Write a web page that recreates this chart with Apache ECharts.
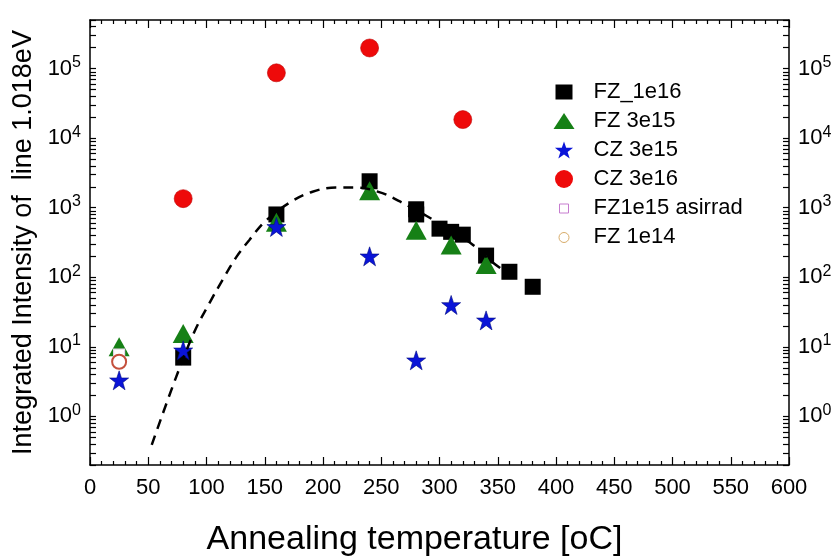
<!DOCTYPE html>
<html>
<head>
<meta charset="utf-8">
<script src="https://cdn.jsdelivr.net/npm/echarts@6/dist/echarts.min.js"></script>
<style>
  html, body { margin: 0; padding: 0; background: #fff; }
  #chart { width: 840px; height: 559px; }
</style>
</head>
<body>
<div id="chart"></div>
<script>
// Annealing temperature (°C) and integrated intensity of the 1.018 eV line
const fz1e16T = [80, 160, 240, 280, 280, 300, 310, 320, 340, 360, 380];
const fz1e16V = [7, 800, 2400, 950, 800, 500, 450, 410, 205, 120, 73];

const fz3e15T = [25, 80, 160, 240, 280, 310, 340];
const fz3e15V = [10, 15.5, 620, 1750, 475, 290, 153];

const cz3e15T = [25, 80, 160, 240, 280, 310, 340];
const cz3e15V = [3.3, 8.9, 530, 200, 6.4, 40, 24];

const cz3e16T = [80, 160, 240, 320];
const cz3e16V = [1350, 87000, 198000, 18500];

const fz1e15T = [25];
const fz1e15V = [8.0];

const fz1e14T = [25];
const fz1e14V = [6.1];

// Guide curve (dashed)
const curveT = [53, 74, 90, 103, 114, 126, 137, 150, 171, 191, 211, 229, 251, 266, 289, 326, 346, 366];
const curveV = [0.39, 3.7, 17, 44, 93, 200, 347, 630, 1175, 1700, 1950, 1950, 1620, 1230, 760, 316, 162, 93];

// Axis ticks
const xTicks = [0, 50, 100, 150, 200, 250, 300, 350, 400, 450, 500, 550, 600];
const yDecades = [1, 10, 100, 1000, 10000, 100000];
const yMin = 0.2, yMax = 500000;

const yMinorTicks = [];
[0.1, 1, 10, 100, 1000, 10000, 100000].forEach(function (d) {
  for (let k = 1; k <= 9; k++) {
    const v = +(d * k).toPrecision(6);
    if (v >= yMin && v <= yMax) yMinorTicks.push(v);
  }
});

function pairs(t, v) { return t.map(function (x, i) { return [x, v[i]]; }); }

const starPath = 'path://M50,2 L61.8,36 L98,36 L68.8,57.5 L79.9,92 L50,71 L20.1,92 L31.2,57.5 L2,36 L38.2,36 Z';

// Legend icons laid out in a 49x18 box, symbol centred horizontally
const BOX = 'M0,0M49,18';
const legSquare = 'path://' + BOX + 'M16,1.5L33,1.5L33,16.5L16,16.5Z';
const legTriangle = 'path://' + BOX + 'M14,17L35,17L24.5,1Z';
const legStar = 'path://' + BOX + 'M24.5,0.4L26.7,6.8L33.6,6.8L28.1,10.9L30.2,17.5L24.5,13.5L18.8,17.5L20.9,10.9L15.4,6.8L22.3,6.8Z';
const legCircle = 'path://' + BOX + 'M15.5,9A9,9 0 1,1 33.5,9A9,9 0 1,1 15.5,9Z';
const legSmallSquare = 'path://' + BOX + 'M20,5L29,5L29,14L20,14Z';
const legSmallCircle = 'path://' + BOX + 'M19.5,9.5A5,5 0 1,1 29.5,9.5A5,5 0 1,1 19.5,9.5Z';

const FONT = "'Liberation Sans', Arial, Helvetica, sans-serif";

const chart = echarts.init(document.getElementById('chart'), null, { renderer: 'canvas' });

const yLabelRich = {
  b: { fontSize: 22, fontFamily: FONT, color: '#000', lineHeight: 28 },
  s: { fontSize: 16, fontFamily: FONT, color: '#000', verticalAlign: 'top', lineHeight: 16 }
};
function decadeLabel(v) {
  const e = Math.round(Math.log10(v));
  return '{b|10}{s|' + e + '}';
}

function yAxisDef(pos, showLabel) {
  return {
    type: 'log',
    logBase: 10,
    min: yMin,
    max: yMax,
    position: pos,
    axisLine: { show: true, onZero: false, lineStyle: { color: '#000', width: 1.5 } },
    axisTick: { show: true, inside: true, length: 6, lineStyle: { color: '#000', width: 1.2 }, customValues: yMinorTicks },
    minorTick: { show: false },
    splitLine: { show: false },
    axisLabel: {
      show: showLabel,
      customValues: yDecades,
      margin: 9,
      formatter: decadeLabel,
      rich: yLabelRich
    }
  };
}

function xAxisDef(pos, showLabel) {
  return {
    type: 'value',
    min: 0,
    max: 600,
    interval: 50,
    position: pos,
    axisLine: { show: true, onZero: false, lineStyle: { color: '#000', width: 1.5 } },
    axisTick: { show: true, inside: true, length: 8, lineStyle: { color: '#000', width: 1.2 } },
    minorTick: { show: true, splitNumber: 5, length: 4, lineStyle: { color: '#000', width: 1.2 } },
    splitLine: { show: false },
    axisLabel: {
      show: showLabel,
      margin: 12,
      fontSize: 22,
      fontFamily: FONT,
      color: '#000',
      customValues: xTicks
    }
  };
}

const xBottom = xAxisDef('bottom', true);
xBottom.name = 'Annealing temperature [oC]';
xBottom.nameLocation = 'middle';
xBottom.nameGap = 58;
xBottom.nameTextStyle = { fontSize: 34, fontFamily: FONT, color: '#000', padding: [0, 50, 0, 0] };

const yLeft = yAxisDef('left', true);
yLeft.name = 'Integrated Intensity of  line 1.018eV';
yLeft.nameLocation = 'middle';
yLeft.nameGap = 47;
yLeft.nameTextStyle = { fontSize: 27, fontFamily: FONT, color: '#000' };

const option = {
  backgroundColor: '#fff',
  animation: false,
  grid: { left: 90, right: 51, top: 20, bottom: 94, containLabel: false, outerBoundsMode: 'none' },
  xAxis: [xBottom, xAxisDef('top', false)],
  yAxis: [yLeft, yAxisDef('right', true)],
  legend: {
    orient: 'vertical',
    left: 534,
    top: 76,
    itemWidth: 49,
    itemHeight: 18,
    itemGap: 7,
    selectedMode: false,
    textStyle: { fontSize: 22, fontFamily: FONT, color: '#000', lineHeight: 22 },
    data: [
      { name: 'FZ_1e16', icon: legSquare, itemStyle: { color: '#000', borderWidth: 0 } },
      { name: 'FZ 3e15', icon: legTriangle, itemStyle: { color: '#168016', borderWidth: 0 } },
      { name: 'CZ 3e15', icon: legStar, itemStyle: { color: '#0a14d8', borderWidth: 0 } },
      { name: 'CZ 3e16', icon: legCircle, itemStyle: { color: '#ee0a0a', borderWidth: 0 } },
      { name: 'FZ1e15 asirrad', icon: legSmallSquare, itemStyle: { color: '#fff', borderColor: '#c67ccf', borderWidth: 1 } },
      { name: 'FZ 1e14', icon: legSmallCircle, itemStyle: { color: '#fff', borderColor: '#d8ac6a', borderWidth: 1 } }
    ]
  },
  series: [
    {
      name: 'FZ_1e16', type: 'scatter', symbol: 'rect', symbolSize: 16, z: 2,
      itemStyle: { color: '#000', opacity: 1 },
      data: pairs(fz1e16T, fz1e16V)
    },
    {
      name: 'FZ 3e15', type: 'scatter', symbol: 'triangle', symbolSize: [21, 19], z: 3,
      itemStyle: { color: '#168016', opacity: 1 },
      data: pairs(fz3e15T, fz3e15V)
    },
    {
      name: 'CZ 3e15', type: 'scatter', symbol: starPath, symbolSize: 19, z: 4,
      itemStyle: { color: '#0a14d8', borderColor: '#000a80', borderWidth: 0.6, opacity: 1 },
      data: pairs(cz3e15T, cz3e15V)
    },
    {
      name: 'CZ 3e16', type: 'scatter', symbol: 'circle', symbolSize: 18, z: 4,
      itemStyle: { color: '#ee0a0a', borderColor: '#c00000', borderWidth: 0.6, opacity: 1 },
      data: pairs(cz3e16T, cz3e16V)
    },
    {
      name: 'FZ1e15 asirrad', type: 'scatter', symbol: 'rect', symbolSize: [11, 9], z: 5,
      itemStyle: { color: '#fff', borderColor: '#eed6ee', borderWidth: 1, opacity: 1 },
      data: pairs(fz1e15T, fz1e15V)
    },
    {
      name: 'FZ 1e14', type: 'scatter', symbol: 'circle', symbolSize: 14, z: 6,
      itemStyle: { color: '#fff', borderColor: '#c4503c', borderWidth: 2, opacity: 1 },
      data: pairs(fz1e14T, fz1e14V)
    },
    {
      name: 'guide', type: 'line', smooth: 0.35, showSymbol: false, z: 7,
      lineStyle: { color: '#000', width: 2.5, type: [10, 7] },
      data: pairs(curveT, curveV)
    }
  ]
};

chart.setOption(option);
</script>
</body>
</html>
